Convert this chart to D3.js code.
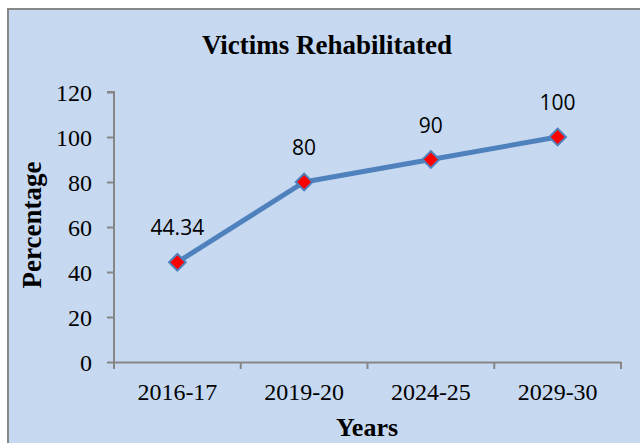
<!DOCTYPE html>
<html>
<head>
<meta charset="utf-8">
<script src="https://cdn.jsdelivr.net/npm/d3@7"></script>
<style>
  body { margin: 0; background: #fff; }
  svg { display: block; }
</style>
</head>
<body>
<svg id="drawing_region"></svg>
<script>
const years = ["2016-17", "2019-20", "2024-25", "2029-30"];
const percentage = [44.34, 80, 90, 100];
const yTicks = [0, 20, 40, 60, 80, 100, 120];

const width = 640, height = 443;
const margin = {top: 92, right: 19, bottom: 81, left: 114};
const inner_width = width - margin.left - margin.right;
const inner_height = height - margin.top - margin.bottom;

const svg = d3.select('#drawing_region')
    .attr('width', width)
    .attr('height', height);

// chart area background and frame
svg.append('rect')
    .attr('x', 8).attr('y', 9)
    .attr('width', width).attr('height', height)
    .attr('fill', '#c6d9f1')
    .attr('stroke', '#888888')
    .attr('stroke-width', 2);

svg.append('text')
    .attr('x', 327).attr('y', 54)
    .attr('text-anchor', 'middle')
    .style('font-family', 'Liberation Serif')
    .style('font-size', '27px')
    .style('font-weight', 'bold')
    .text('Victims Rehabilitated');

const chart = svg.append('g')
    .attr('transform', `translate(${margin.left}, ${margin.top})`);

const xscale = d3.scaleBand()
    .domain(years)
    .range([0, inner_width]);

const yscale = d3.scaleLinear()
    .domain([0, 120])
    .range([inner_height, 0]);

const yaxis = d3.axisLeft(yscale)
    .tickValues(yTicks)
    .tickSize(7)
    .tickPadding(15);

const yaxis_group = chart.append('g').call(yaxis);

const xaxis = d3.axisBottom(xscale)
    .tickSize(0)
    .tickPadding(20);

const xaxis_group = chart.append('g')
    .attr('transform', `translate(0, ${inner_height})`)
    .call(xaxis);

// category boundary ticks
xaxis_group.selectAll('.bound')
    .data(d3.range(years.length + 1))
    .enter()
    .append('line')
    .attr('class', 'bound')
    .attr('x1', i => i * xscale.step())
    .attr('x2', i => i * xscale.step())
    .attr('y1', 0).attr('y2', 7)
    .attr('stroke', '#868686')
    .attr('stroke-width', 2);

[yaxis_group, xaxis_group].forEach(g => {
    g.attr('font-family', null).attr('font-size', null);
    g.select('.domain').attr('stroke', '#868686').attr('stroke-width', 2);
    g.selectAll('.tick line').attr('stroke', '#868686').attr('stroke-width', 2);
    g.selectAll('text')
        .attr('fill', '#000')
        .style('font-family', 'Liberation Serif')
        .style('font-size', '24px');
});
yaxis_group.select('.domain').attr('d', `M-7,0H0V${inner_height}`);
yaxis_group.selectAll('text').attr('dy', '0.36em');
xaxis_group.selectAll('text').attr('dy', '0.71em').attr('y', 21);

const cx = d => xscale(d) + xscale.bandwidth() / 2;

const line = d3.line()
    .x((d, i) => cx(years[i]))
    .y(d => yscale(d));

chart.append('path')
    .datum(percentage)
    .attr('d', line)
    .attr('fill', 'none')
    .attr('stroke', '#4f81bd')
    .attr('stroke-width', 5)
    .attr('stroke-linejoin', 'round');

const sym = d3.symbol().type(d3.symbolSquare).size(140);
chart.selectAll('.marker')
    .data(percentage)
    .enter()
    .append('path')
    .attr('class', 'marker')
    .attr('d', sym)
    .attr('transform', (d, i) => `translate(${cx(years[i])}, ${yscale(d)}) rotate(45)`)
    .attr('fill', '#ff0000')
    .attr('stroke', '#4f81bd')
    .attr('stroke-width', 2);

chart.selectAll('.label')
    .data(percentage)
    .enter()
    .append('text')
    .attr('class', 'label')
    .attr('x', (d, i) => cx(years[i]))
    .attr('y', d => yscale(d) - 27)
    .attr('text-anchor', 'middle')
    .style('font-family', 'Open Sans')
    .style('font-size', '21px')
    .attr('fill', '#000')
    .text(d => d);

svg.append('text')
    .attr('transform', 'translate(41, 225) rotate(-90)')
    .attr('text-anchor', 'middle')
    .style('font-family', 'Liberation Serif')
    .style('font-size', '27px')
    .style('font-weight', 'bold')
    .text('Percentage');

svg.append('text')
    .attr('x', 367).attr('y', 436)
    .attr('text-anchor', 'middle')
    .style('font-family', 'Liberation Serif')
    .style('font-size', '26px')
    .style('font-weight', 'bold')
    .text('Years');
</script>
</body>
</html>
